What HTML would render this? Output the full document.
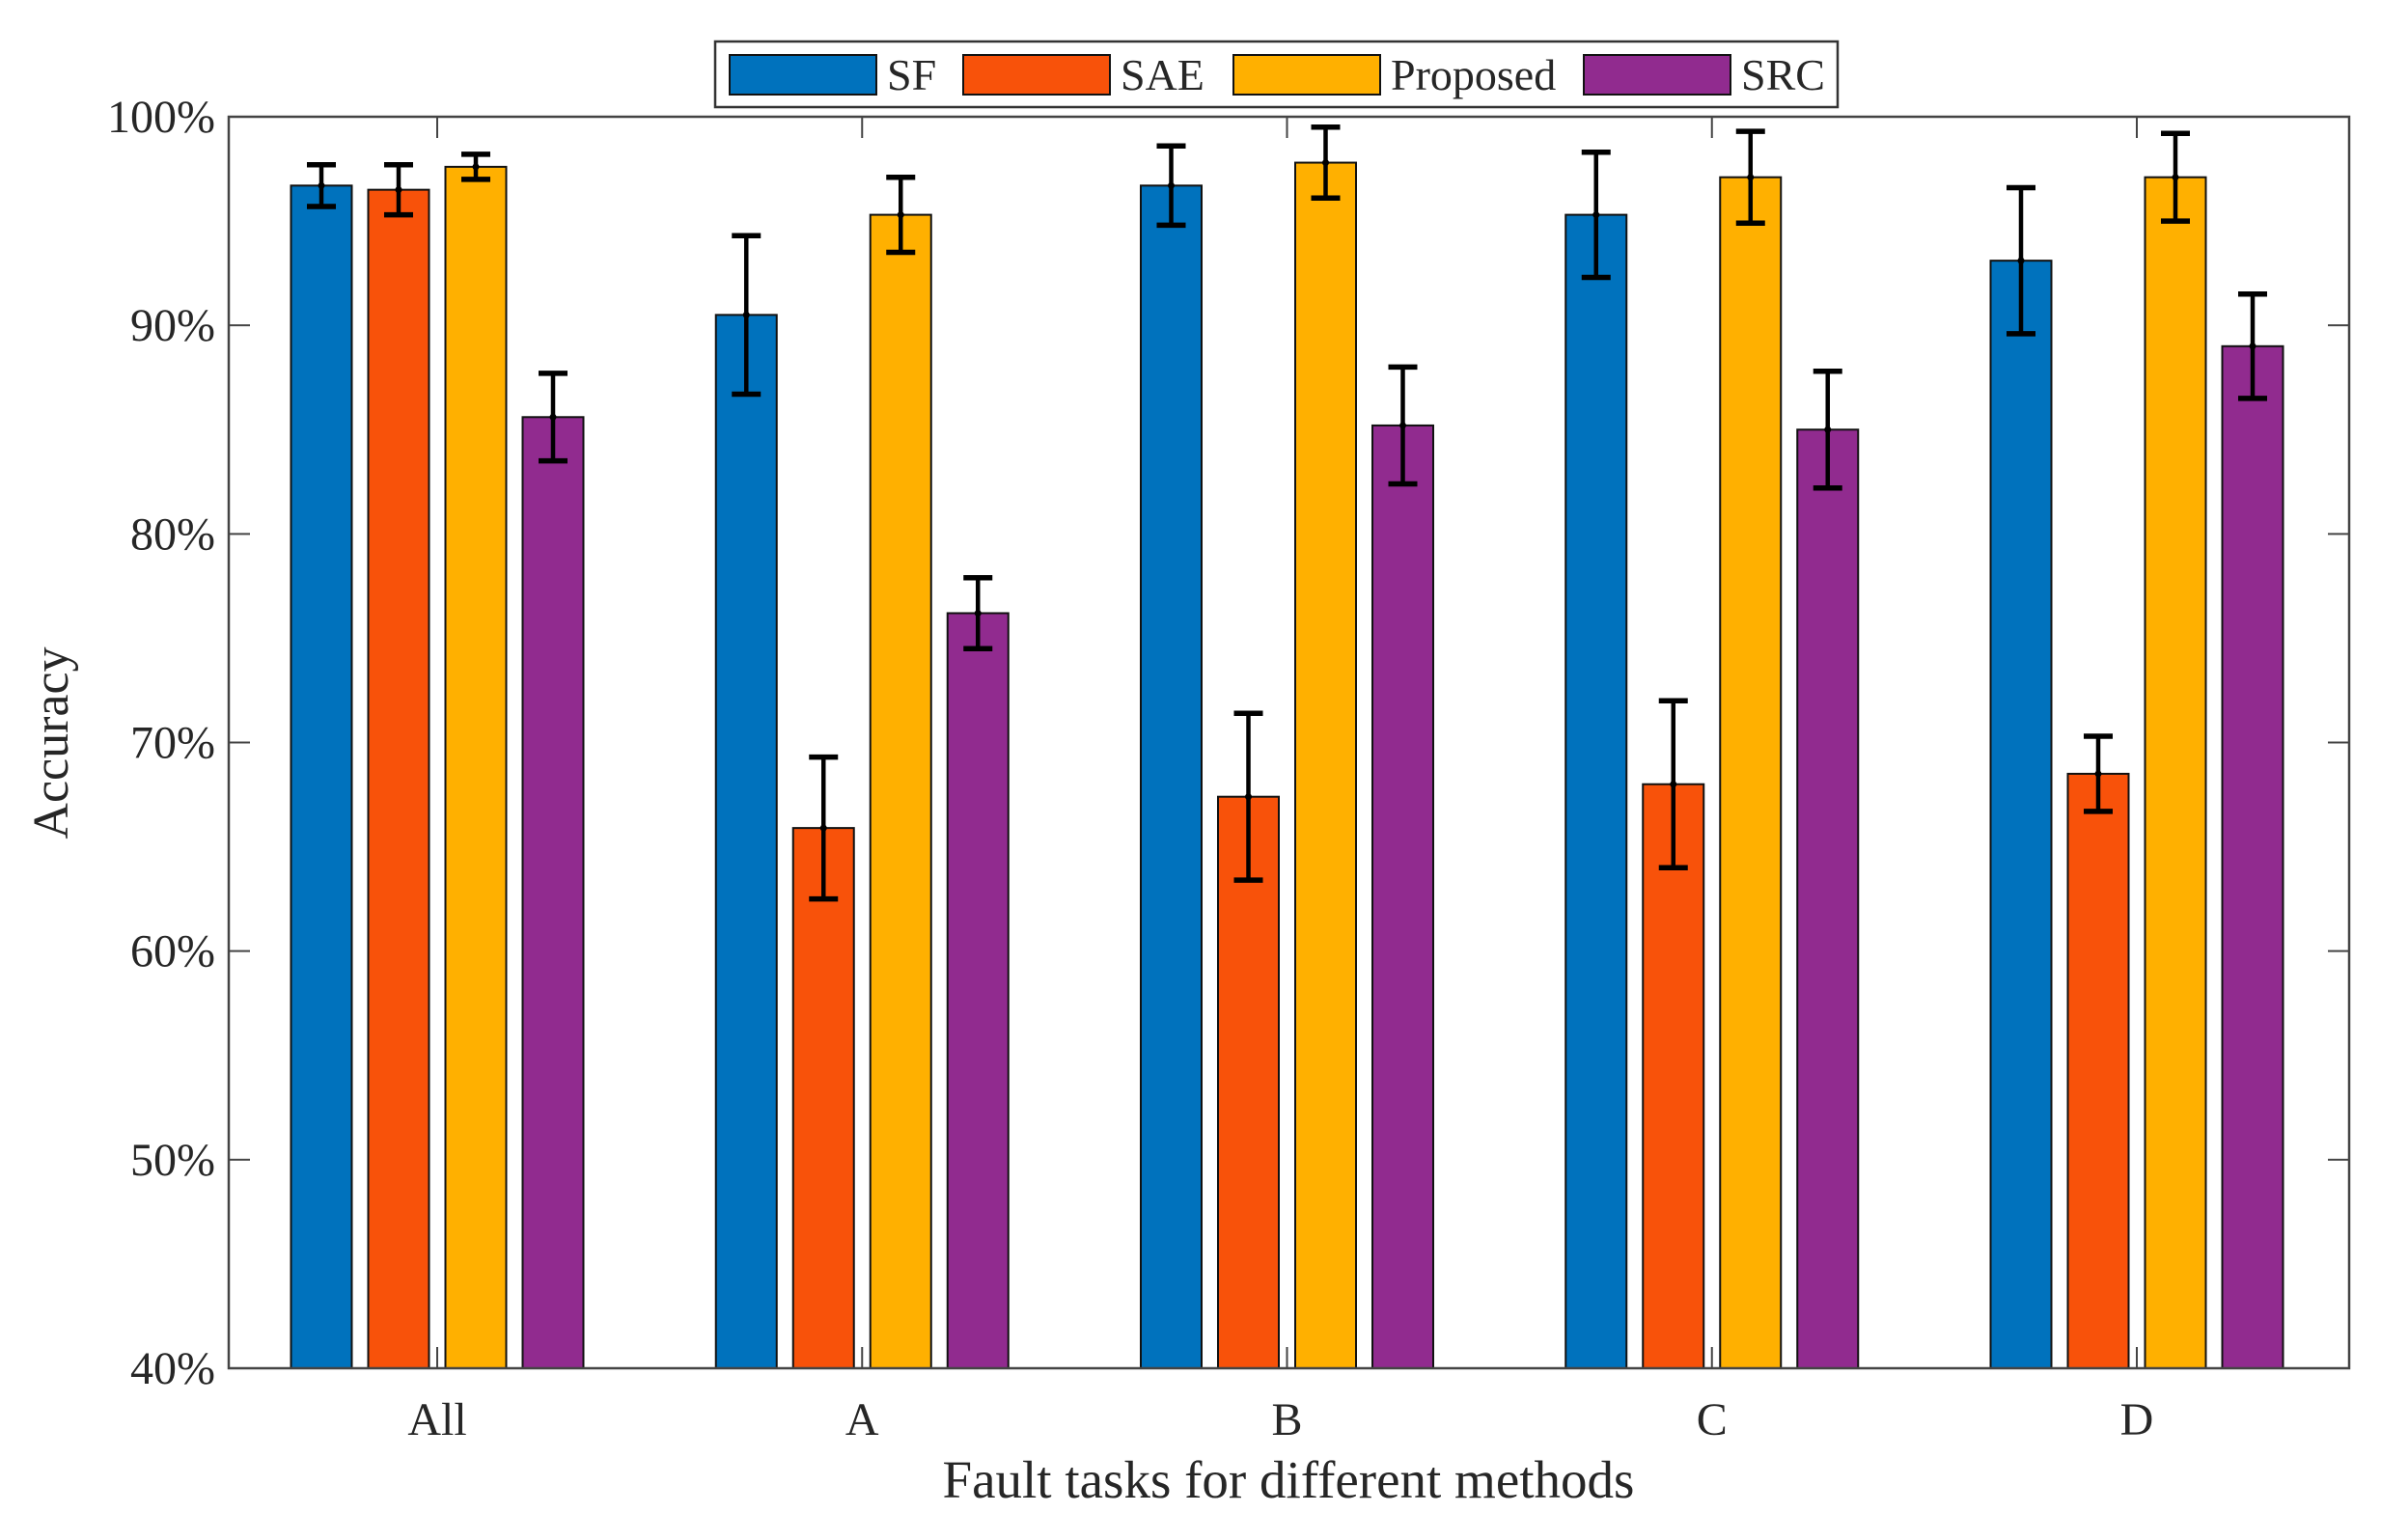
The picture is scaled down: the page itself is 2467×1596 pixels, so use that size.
<!DOCTYPE html>
<html><head><meta charset="utf-8"><style>
html,body{margin:0;padding:0;background:#fff;}
svg text{font-family:"Liberation Serif",serif;fill:#262626;}
</style></head><body>
<svg id="chart" width="2467" height="1591" viewBox="0 0 2467 1591" xmlns="http://www.w3.org/2000/svg">
<rect width="2467" height="1591" fill="#fff"/>
<g id="plot"></g>
</svg>
<script>
const categories=["All","A","B","C","D"];
const seriesNames=["SF","SAE","Proposed","SRC"];
const sfVals=[96.7,90.5,96.7,95.3,93.1];
const saeVals=[96.5,65.9,67.4,68.0,68.5];
const propVals=[97.6,95.3,97.8,97.1,97.1];
const srcVals=[85.6,76.2,85.2,85.0,89.0];
const sfErr=[1.0,3.8,1.9,3.0,3.5];
const saeErr=[1.2,3.4,4.0,4.0,1.8];
const propErr=[0.6,1.8,1.7,2.2,2.1];
const srcErr=[2.1,1.7,2.8,2.8,2.5];
const yTicks=[40,50,60,70,80,90,100];
const yTickLabels=["40%","50%","60%","70%","80%","90%","100%"];

const colors=["#0072BD","#F8520A","#FFB000","#912B8F"];
const vals=[sfVals,saeVals,propVals,srcVals];
const errs=[sfErr,saeErr,propErr,srcErr];
const L=237,R=2434,T=121,B=1418;
const yMin=40,yMax=100;
const y=v=>B-(v-yMin)/(yMax-yMin)*(B-T);
const x0=453,step=440.25;
const xc=i=>x0+i*step;
const offs=[-120,-40,40,120],bw=63;
const NS="http://www.w3.org/2000/svg";
const g=document.getElementById('plot');
function mk(tag,attrs,parent){const e=document.createElementNS(NS,tag);for(const k in attrs)e.setAttribute(k,attrs[k]);(parent||g).appendChild(e);return e;}

categories.forEach((c,i)=>{
  vals.forEach((s,j)=>{
    const cx=xc(i)+offs[j];
    const r=mk('rect',{x:cx-bw/2,y:y(s[i]),width:bw,height:B-y(s[i]),fill:colors[j],stroke:'#111','stroke-width':2});
    
    
  });
});
categories.forEach((c,i)=>{
  vals.forEach((s,j)=>{
    const cx=xc(i)+offs[j];
    const eg=mk('g',{stroke:'#000','stroke-width':4.5});
    
    
    const hi=y(s[i]+errs[j][i]),lo=y(s[i]-errs[j][i]);
    mk('line',{x1:cx,x2:cx,y1:hi,y2:lo},eg);
    mk('line',{x1:cx-15,x2:cx+15,y1:hi,y2:hi,'stroke-width':5.5},eg);
    mk('line',{x1:cx-15,x2:cx+15,y1:lo,y2:lo,'stroke-width':5.5},eg);
    mk('circle',{cx:cx,cy:y(s[i]),r:3.5,fill:'#000',stroke:'none'},eg);
  });
});
const ax=mk('rect',{x:L,y:T,width:R-L,height:B-T,fill:'none',stroke:'#444','stroke-width':2.5});


yTicks.forEach((t,k)=>{
  mk('line',{x1:L,x2:L+22,y1:y(t),y2:y(t),stroke:'#444','stroke-width':2});
  mk('line',{x1:R,x2:R-22,y1:y(t),y2:y(t),stroke:'#444','stroke-width':2});
  const tx=mk('text',{x:L-14,y:y(t)+16,'font-size':48,'text-anchor':'end'});
  tx.textContent=yTickLabels[k];
  
  
});
categories.forEach((c,i)=>{
  mk('line',{x1:xc(i),x2:xc(i),y1:B,y2:B-22,stroke:'#444','stroke-width':2});
  mk('line',{x1:xc(i),x2:xc(i),y1:T,y2:T+22,stroke:'#444','stroke-width':2});
  const tx=mk('text',{x:xc(i),y:1487,'font-size':48,'text-anchor':'middle'});
  tx.textContent=c;
  
  
});
const xt=mk('text',{x:1335,y:1552,'font-size':55,'text-anchor':'middle'});
xt.textContent='Fault tasks for different methods';


const yt=mk('text',{x:0,y:0,'font-size':52,'text-anchor':'middle',transform:'translate(70,770) rotate(-90)'});
yt.textContent='Accuracy';


const lg=mk('g',{});


mk('rect',{x:741,y:43,width:1163,height:68,fill:'#fff',stroke:'#333','stroke-width':2.5},lg);
const swX=[756,998,1278,1641];
seriesNames.forEach((n,j)=>{
  const e=mk('g',{},lg);
  
  
  mk('rect',{x:swX[j],y:57,width:152,height:41,fill:colors[j],stroke:'#111','stroke-width':2},e);
  const t=mk('text',{x:swX[j]+163,y:93,'font-size':46},e);
  t.textContent=n;
});
</script>
</body></html>
